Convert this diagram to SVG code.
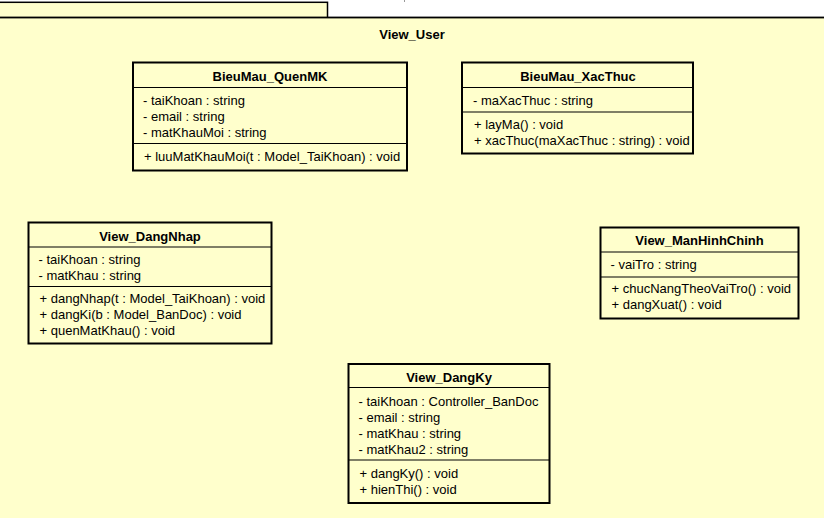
<svg xmlns="http://www.w3.org/2000/svg" width="824" height="518" viewBox="0 0 824 518">
<style>
.pkg{fill:#FFFFCC;stroke:#000;}
.box{fill:#FFFFCC;stroke:#000;stroke-width:2;}
.sep{stroke:#000;stroke-width:1.2;fill:none;}
.t{font-family:"Liberation Sans",Arial,sans-serif;font-size:13px;fill:#000;}
.b{font-weight:bold;text-anchor:middle;}
</style>
<rect width="824" height="518" fill="#FFFFFF"/>
<g id="package_View_User">
<rect class="pkg" x="-4" y="2.3" width="331.5" height="20" stroke-width="1.5"/>
<rect class="pkg" x="-4" y="17.5" width="834" height="510" stroke-width="1.8"/>
<line x1="404.5" y1="0" x2="404.5" y2="2" stroke="#999" stroke-width="1"/>
<text class="t b" x="412" y="38.5">View_User</text>
</g>
<g id="BieuMau_QuenMK">
<rect class="box" x="133" y="62.5" width="274" height="108"/>
<line class="sep" x1="133" y1="87.5" x2="407" y2="87.5"/>
<line class="sep" x1="133" y1="143.5" x2="407" y2="143.5"/>
<text class="t b" x="270" y="80.5">BieuMau_QuenMK</text>
<text class="t" x="143" y="104.5">- taiKhoan : string</text>
<text class="t" x="143" y="120.5">- email : string</text>
<text class="t" x="143" y="136.5">- matKhauMoi : string</text>
<text class="t" x="144" y="160.5">+ luuMatKhauMoi(t : Model_TaiKhoan) : void</text>
</g>
<g id="BieuMau_XacThuc">
<rect class="box" x="462" y="62.5" width="231" height="91"/>
<line class="sep" x1="462" y1="87.5" x2="693" y2="87.5"/>
<line class="sep" x1="462" y1="112" x2="693" y2="112"/>
<text class="t b" x="578" y="80.5">BieuMau_XacThuc</text>
<text class="t" x="473" y="104.5">- maXacThuc : string</text>
<text class="t" x="474" y="128.5">+ layMa() : void</text>
<text class="t" x="474" y="144.5">+ xacThuc(maXacThuc : string) : void</text>
</g>
<g id="View_DangNhap">
<rect class="box" x="28.5" y="222.5" width="243" height="121"/>
<line class="sep" x1="28.5" y1="247" x2="271.5" y2="247"/>
<line class="sep" x1="28.5" y1="286.5" x2="271.5" y2="286.5"/>
<text class="t b" x="150" y="240.5">View_DangNhap</text>
<text class="t" x="38.5" y="263.5">- taiKhoan : string</text>
<text class="t" x="38.5" y="279.5">- matKhau : string</text>
<text class="t" x="39.5" y="302.5">+ dangNhap(t : Model_TaiKhoan) : void</text>
<text class="t" x="39.5" y="318.5">+ dangKi(b : Model_BanDoc) : void</text>
<text class="t" x="39.5" y="334.5">+ quenMatKhau() : void</text>
</g>
<g id="View_ManHinhChinh">
<rect class="box" x="600.5" y="227.5" width="198" height="91"/>
<line class="sep" x1="600.5" y1="252" x2="798.5" y2="252"/>
<line class="sep" x1="600.5" y1="277" x2="798.5" y2="277"/>
<text class="t b" x="699.5" y="245">View_ManHinhChinh</text>
<text class="t" x="610.5" y="268.5">- vaiTro : string</text>
<text class="t" x="611.5" y="293">+ chucNangTheoVaiTro() : void</text>
<text class="t" x="611.5" y="309">+ dangXuat() : void</text>
</g>
<g id="View_DangKy">
<rect class="box" x="348.5" y="364" width="201" height="139"/>
<line class="sep" x1="348.5" y1="387.5" x2="549.5" y2="387.5"/>
<line class="sep" x1="348.5" y1="460" x2="549.5" y2="460"/>
<text class="t b" x="449" y="382">View_DangKy</text>
<text class="t" x="358.5" y="405.5">- taiKhoan : Controller_BanDoc</text>
<text class="t" x="358.5" y="421.5">- email : string</text>
<text class="t" x="358.5" y="437.5">- matKhau : string</text>
<text class="t" x="358.5" y="453.5">- matKhau2 : string</text>
<text class="t" x="359.5" y="477.5">+ dangKy() : void</text>
<text class="t" x="359.5" y="493.5">+ hienThi() : void</text>
</g>
<g id="connectors"></g>
</svg>
